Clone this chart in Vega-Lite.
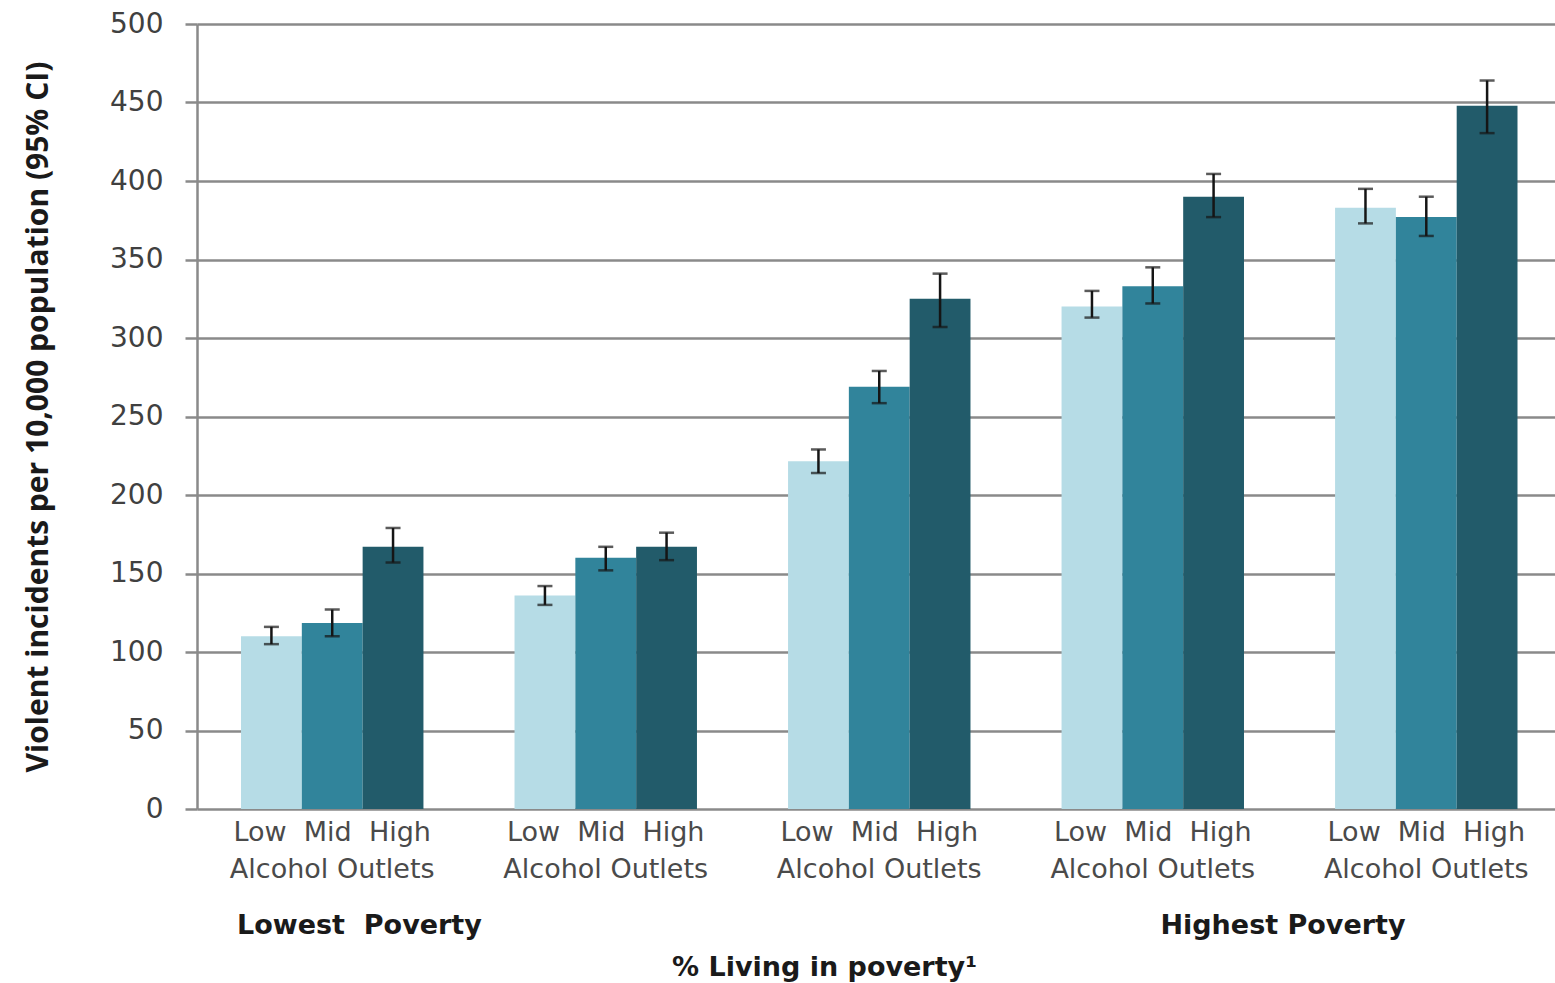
{
  "$schema": "https://vega.github.io/schema/vega-lite/v6.json",
  "autosize": {"type": "none"},
  "padding": {"left": 197, "top": 24, "right": 0, "bottom": 174},
  "width": 1358,
  "height": 785,
  "background": "white",
  "config": {
    "view": {"stroke": null},
    "font": "DejaVu Sans"
  },
  "datasets": {
    "rates": [
      {"quintile": "Q1", "outlets": "Low", "rate": 110, "lo": 105, "hi": 116},
      {"quintile": "Q1", "outlets": "Mid", "rate": 118.5, "lo": 110, "hi": 127},
      {"quintile": "Q1", "outlets": "High", "rate": 167, "lo": 157, "hi": 179},
      {"quintile": "Q2", "outlets": "Low", "rate": 136, "lo": 130, "hi": 142},
      {"quintile": "Q2", "outlets": "Mid", "rate": 160, "lo": 152, "hi": 167},
      {"quintile": "Q2", "outlets": "High", "rate": 167, "lo": 158.5, "hi": 176},
      {"quintile": "Q3", "outlets": "Low", "rate": 221.5, "lo": 214, "hi": 229},
      {"quintile": "Q3", "outlets": "Mid", "rate": 269, "lo": 258.5, "hi": 279},
      {"quintile": "Q3", "outlets": "High", "rate": 325, "lo": 307, "hi": 341},
      {"quintile": "Q4", "outlets": "Low", "rate": 320, "lo": 313, "hi": 330},
      {"quintile": "Q4", "outlets": "Mid", "rate": 333, "lo": 322, "hi": 345},
      {"quintile": "Q4", "outlets": "High", "rate": 390, "lo": 377, "hi": 404.5},
      {"quintile": "Q5", "outlets": "Low", "rate": 383, "lo": 373, "hi": 395},
      {"quintile": "Q5", "outlets": "Mid", "rate": 377, "lo": 365, "hi": 390},
      {"quintile": "Q5", "outlets": "High", "rate": 448, "lo": 430.5, "hi": 464}
    ],
    "groups": [
      {"quintile": "Q1", "levels": "Low\u00a0\u00a0Mid\u00a0\u00a0High", "caption": "Alcohol Outlets"},
      {"quintile": "Q2", "levels": "Low\u00a0\u00a0Mid\u00a0\u00a0High", "caption": "Alcohol Outlets"},
      {"quintile": "Q3", "levels": "Low\u00a0\u00a0Mid\u00a0\u00a0High", "caption": "Alcohol Outlets"},
      {"quintile": "Q4", "levels": "Low\u00a0\u00a0Mid\u00a0\u00a0High", "caption": "Alcohol Outlets"},
      {"quintile": "Q5", "levels": "Low\u00a0\u00a0Mid\u00a0\u00a0High", "caption": "Alcohol Outlets"}
    ]
  },
  "encoding": {
    "x": {
      "field": "quintile",
      "type": "nominal",
      "sort": ["Q1", "Q2", "Q3", "Q4", "Q5"],
      "scale": {"paddingInner": 0.333, "paddingOuter": 0.149, "align": 0.54},
      "axis": {
        "labels": false,
        "ticks": false,
        "domain": false,
        "title": "% Living in poverty¹",
        "titleFont": "DejaVu Sans",
        "titleFontSize": 27,
        "titleFontWeight": "bold",
        "titleColor": "#1a1a1a",
        "titlePadding": 145,
        "titleX": 627
      }
    }
  },
  "layer": [
    {
      "data": {"name": "rates"},
      "mark": {"type": "bar", "opacity": 1},
      "encoding": {
        "xOffset": {"field": "outlets", "type": "nominal", "sort": ["Low", "Mid", "High"], "scale": {"paddingInner": 0, "paddingOuter": 0}},
        "y": {
          "field": "rate",
          "type": "quantitative",
          "scale": {"domain": [0, 500], "nice": false},
          "axis": {
            "values": [0, 50, 100, 150, 200, 250, 300, 350, 400, 450, 500],
            "title": "Violent incidents per 10,000 population (95% CI)",
            "titleFont": "Open Sans",
            "titleFontSize": 30,
            "titleFontWeight": "bold",
            "titleColor": "#1a1a1a",
            "titlePadding": 56,
            "labelFont": "DejaVu Sans",
            "labelFontSize": 28,
            "labelColor": "#404040",
            "labelPadding": 22,
            "tickSize": 12,
            "tickColor": "#8a8a8a",
            "tickWidth": 2.5,
            "domainColor": "#8a8a8a",
            "domainWidth": 2.5,
            "grid": true,
            "gridColor": "#8a8a8a",
            "gridWidth": 2.5
          }
        },
        "color": {
          "field": "outlets",
          "type": "nominal",
          "sort": ["Low", "Mid", "High"],
          "scale": {"domain": ["Low", "Mid", "High"], "range": ["#b6dce6", "#31849b", "#225b6a"]},
          "legend": null
        }
      }
    },
    {
      "data": {"name": "rates"},
      "mark": {"type": "rule", "color": "#151515", "strokeWidth": 2.5},
      "encoding": {
        "xOffset": {"field": "outlets", "type": "nominal", "sort": ["Low", "Mid", "High"]},
        "y": {"field": "lo", "type": "quantitative"},
        "y2": {"field": "hi"}
      }
    },
    {
      "data": {"name": "rates"},
      "mark": {"type": "tick", "color": "#151515", "size": 15, "thickness": 2.5, "orient": "horizontal"},
      "encoding": {
        "xOffset": {"field": "outlets", "type": "nominal", "sort": ["Low", "Mid", "High"]},
        "y": {"field": "lo", "type": "quantitative"}
      }
    },
    {
      "data": {"name": "rates"},
      "mark": {"type": "tick", "color": "#151515", "size": 15, "thickness": 2.5, "orient": "horizontal"},
      "encoding": {
        "xOffset": {"field": "outlets", "type": "nominal", "sort": ["Low", "Mid", "High"]},
        "y": {"field": "hi", "type": "quantitative"}
      }
    },
    {
      "data": {"name": "groups"},
      "mark": {"type": "text", "fontSize": 27, "color": "#4a4a4a", "baseline": "middle", "dy": 24},
      "encoding": {
        "y": {"datum": 0, "type": "quantitative"},
        "text": {"field": "levels"}
      }
    },
    {
      "data": {"name": "groups"},
      "mark": {"type": "text", "fontSize": 27, "color": "#4a4a4a", "baseline": "middle", "dy": 61},
      "encoding": {
        "y": {"datum": 0, "type": "quantitative"},
        "text": {"field": "caption"}
      }
    },
    {
      "data": {"values": [{"quintile": "Q1", "pole": "Lowest\u00a0\u00a0Poverty"}]},
      "mark": {"type": "text", "fontSize": 27, "fontWeight": "bold", "color": "#1a1a1a", "align": "left", "baseline": "middle", "dy": 117, "dx": -4},
      "encoding": {
        "x": {"field": "quintile", "type": "nominal", "bandPosition": 0},
        "y": {"datum": 0, "type": "quantitative"},
        "text": {"field": "pole"}
      }
    },
    {
      "data": {"values": [{"quintile": "Q4", "pole": "Highest Poverty"}]},
      "mark": {"type": "text", "fontSize": 27, "fontWeight": "bold", "color": "#1a1a1a", "align": "center", "baseline": "middle", "dy": 117, "dx": 39},
      "encoding": {
        "x": {"field": "quintile", "type": "nominal", "bandPosition": 1},
        "y": {"datum": 0, "type": "quantitative"},
        "text": {"field": "pole"}
      }
    }
  ]
}
